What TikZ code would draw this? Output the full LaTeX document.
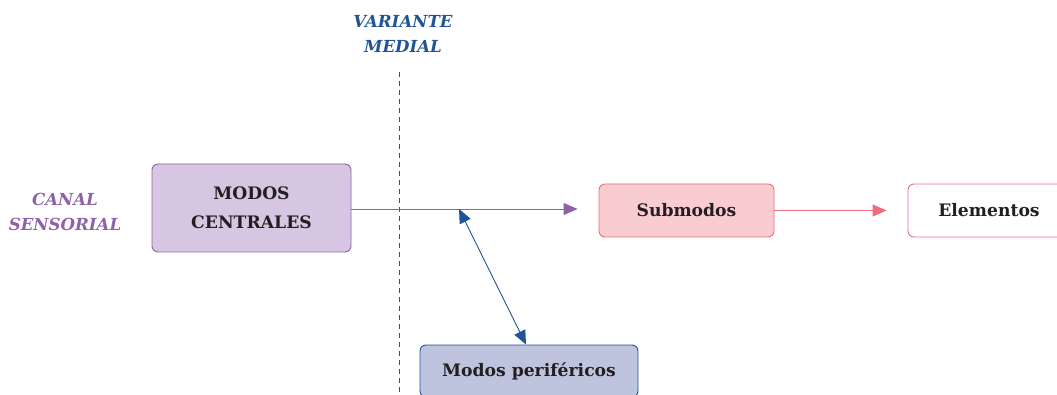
\documentclass[tikz,border=0pt]{standalone}
\usepackage{fontspec}
\setmainfont{DejaVu Serif}
\usepackage{xcolor}
\usetikzlibrary{arrows.meta, positioning}
\definecolor{lila}{HTML}{8E62A8}
\definecolor{lilafill}{HTML}{D6C6E2}
\definecolor{azul}{HTML}{1F5597}
\definecolor{azulfill}{HTML}{BFC4DE}
\definecolor{rosa}{HTML}{EE6B80}
\definecolor{rosafill}{HTML}{F9CCD1}
\definecolor{tinta}{HTML}{231F20}
\tikzset{
  caja/.style={
    draw, rounded corners=6pt, line width=0.9pt, align=center,
    text=tinta, inner sep=0pt, font=\fontsize{17.2}{29}\selectfont\bfseries
  },
  rotulo/.style={
    align=center, inner sep=0pt,
    font=\fontsize{16.6}{25}\selectfont\bfseries\itshape
  },
  flecha/.style={
    line width=0.9pt,
    -{Triangle[length=14pt, width=12pt]}
  }
}
\begin{document}
\begin{tikzpicture}[x=1pt, y=-1pt]
\clip (0,0) rectangle (1057,395);
\useasboundingbox (0,0) rectangle (1057,395);
\node[rotulo, text=lila] (canal) at (65,212) {CANAL\\SENSORIAL};
\node[rotulo, text=azul] (variante) at (403,34) {VARIANTE\\MEDIAL};
\node[caja, draw=lila, fill=lilafill, minimum width=199pt, minimum height=88pt] (central) at (251.5,208) {MODOS\\CENTRALES};
\node[caja, draw=rosa, fill=rosafill, minimum width=175pt, minimum height=53pt] (sub) at (686.5,210.5) {Submodos};
\node[caja, draw=rosa, fill=white, minimum width=162pt, minimum height=53pt] (elem) at (989,210.5) {Elementos};
\node[caja, draw=azul, fill=azulfill, minimum width=218pt, minimum height=52pt] (peri) at (529,371) {Modos perif\'ericos};

\coordinate (dtop) at (399,72);
\coordinate (dbot) at (399,395);
\coordinate (union) at (459,209);

\draw[azul, line width=1pt, dash pattern=on 5pt off 4pt] (dtop) -- (dbot);

\draw[flecha, lila] (central.east |- union) -- ([xshift=-21pt]sub.west |- union);
\draw[flecha, rosa] (sub.east) -- ([xshift=-21pt]elem.west);
\draw[azul, line width=0.9pt, {Triangle[length=14pt, width=12pt]}-{Triangle[length=14pt, width=12pt]}] (union) -- (peri.north -| 526,0);
\end{tikzpicture}
\end{document}
